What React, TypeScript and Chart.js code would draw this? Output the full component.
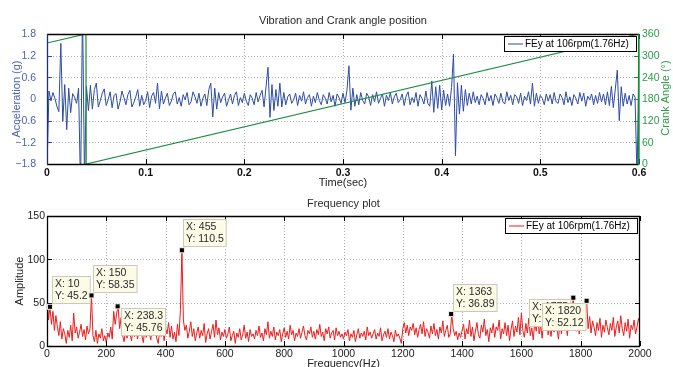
import React, { useEffect, useRef } from 'react';
import { Chart, registerables } from 'chart.js';

Chart.register(...registerables);

// ---------------- data ----------------
const TIME_STEP = 0.002; // seconds between acceleration samples
const accelValues: number[] = [
  -1.9, 0.22, -0.05, 0.18, 0.02, -0.2, -0.35, 1.54, -0.62, 0.4, -0.85, 0.3, -0.38, 0.15, 0.05, -0.12, 0.3, -2.5, 2.5, -2.2,
  0.35, -0.32, 0.38, -0.28, 0.26, 0.44, -0.22, -0.05, 0.16, 0.28, -0.18, -0.02, 0.2, -0.24, 0.1, 0.15, -0.28, -0.08, 0.22, 0.04,
  -0.16, 0.12, 0.24, -0.22, -0.1, 0.06, 0.26, -0.2, 0.1, -0.16, -0.04, 0.2, -0.24, 0.08, 0.18, -0.12, 0.44, -0.27, 0.22, -0.14,
  0.02, 0.16, -0.18, -0.06, 0.14, 0.2, -0.14, 0.04, -0.2, 0.12, -0.02, 0.18, -0.16, -0.08, 0.2, 0.06, -0.12, 0.16, -0.2, 0.02,
  0.14, -0.18, 0.26, 0.44, -0.5, 0.3, -0.28, 0.18, -0.1, 0.06, 0.16, -0.2, -0.02, 0.14, -0.14, 0.1, 0.2, -0.18, 0.04, -0.1,
  0.16, -0.06, -0.18, 0.12, 0.02, -0.16, 0.18, -0.08, 0.1, 0.24, -0.22, 0.34, 0.88, -0.51, 0.4, -0.32, 0.26, -0.2, 0.44, -0.22,
  0.18, -0.16, 0.06, 0.14, -0.12, -0.02, 0.16, -0.18, 0.1, -0.06, 0.2, -0.14, 0.04, 0.12, -0.2, 0.08, -0.1, 0.18, -0.04, -0.16,
  0.12, 0.02, -0.14, 0.18, -0.08, 0.1, -0.2, 0.14, 0.04, -0.12, 0.16, -0.1, 0.24, 0.92, -0.31, 0.3, -0.2, 0.12, -0.16, 0.18,
  -0.04, -0.14, 0.16, 0.06, -0.18, 0.12, -0.08, 0.2, -0.12, 0.02, 0.14, -0.2, 0.1, -0.04, 0.18, -0.14, 0.06, 0.16, -0.1, -0.02,
  0.14, -0.18, 0.08, 0.2, -0.16, 0.04, -0.1, 0.18, -0.2, 0.12, 0.02, -0.14, 0.22, -0.12, -0.2, 0.5, -0.37, 0.34, -0.26, 0.38,
  -0.3, 0.24, -0.18, 0.14, -0.2, 0.32, 1.24, -1.57, 0.45, -0.42, 0.38, -0.34, 0.26, -0.18, 0.16, -0.14, 0.2, -0.1, 0.08, -0.16,
  0.12, 0.02, -0.16, 0.18, -0.06, 0.1, -0.18, 0.14, 0.04, -0.12, 0.16, -0.08, -0.14, 0.2, -0.04, 0.1, -0.16, 0.12, 0.06, -0.12,
  0.16, -0.18, 0.08, -0.04, 0.2, -0.14, 0.44, -0.2, 0.16, -0.12, 0.1, 0.02, -0.16, 0.14, -0.06, 0.12, -0.14, 0.18, -0.08, -0.12,
  0.14, 0.04, -0.16, 0.2, -0.1, 0.06, -0.18, 0.12, 0.02, -0.14, 0.18, -0.06, 0.16, -0.2, 0.08, -0.02, 0.14, -0.16, 0.1, -0.12,
  0.18, -0.08, 0.14, -0.16, 0.2, -0.18, 0.35, -0.24, 0.28, 0.8, -0.6, 0.34, -0.2, 0.16, -0.14, 0.1, -0.18, 0.14, 0.05, -2.2,
  1.2,
];

const crankTimes: number[] = [0, 0.0395, 0.0397, 0.6];
const crankAngles: number[] = [335, 360, 0, 360];

const timeTicks: number[] = [0, 0.1, 0.2, 0.3, 0.4, 0.5, 0.6];
const timeTickLabels: string[] = ['0', '0.1', '0.2', '0.3', '0.4', '0.5', '0.6'];
const accTicks: number[] = [-1.8, -1.2, -0.6, 0, 0.6, 1.2, 1.8];
const accTickLabels: string[] = ['\u22121.8', '\u22121.2', '\u22120.6', '0', '0.6', '1.2', '1.8'];
const angleTicks: number[] = [0, 60, 120, 180, 240, 300, 360];
const angleTickLabels: string[] = ['0', '60', '120', '180', '240', '300', '360'];

const FREQ_STEP = 5; // Hz between spectrum bins
const ampValues: number[] = [
  62, 30, 45.2, 25, 40, 18, 35, 22, 12, 28, 8, 20, 14, 3, 18, 10, 24, 6, 38, 15,
  22, 9, 16, 25, 11, 19, 7, 23, 14, 20, 58.35, 12, 5, 18, 3, 14, 9, 20, 6, 12,
  4, 15, 10, 22, 8, 40, 25, 38, 45.76, 20, 33, 12, 5, 18, 9, 22, 14, 6, 19, 11,
  24, 8, 17, 28, 12, 4, 20, 10, 30, 15, 7, 22, 13, 26, 9, 3, 18, 11, 24, 6,
  20, 14, 27, 10, 23, 8, 16, 5, 25, 12, 42, 110.5, 30, 18, 24, 9, 17, 28, 11, 20,
  6, 15, 22, 9, 18, 12, 26, 4, 14, 20, 8, 17, 25, 10, 30, 13, 21, 7, 16, 11,
  19, 9, 14, 22, 6, 12, 17, 3, 15, 10, 20, 7, 13, 24, 9, 16, 5, 19, 11, 14,
  8, 18, 12, 23, 10, 15, 6, 20, 13, 28, 9, 17, 11, 22, 7, 16, 12, 19, 5, 14,
  21, 10, 17, 8, 24, 13, 18, 6, 15, 11, 20, 9, 16, 23, 12, 7, 18, 14, 22, 10,
  17, 8, 19, 13, 25, 11, 16, 6, 20, 14, 22, 9, 15, 18, 7, 21, 12, 17, 10, 14,
  8, 16, 12, 19, 6, 14, 10, 18, 5, 13, 20, 9, 15, 11, 17, 7, 22, 12, 16, 9,
  14, 19, 8, 15, 11, 21, 6, 13, 17, 10, 20, 8, 16, 12, 5, 18, 11, 14, 9, 3,
  20, 27, 15, 24, 12, 22, 18, 26, 13, 21, 10, 19, 25, 14, 28, 11, 20, 16, 9, 23,
  14, 26, 12, 19, 8, 22, 15, 29, 11, 18, 24, 10, 14, 36.89, 20, 12, 17, 7, 15, 10,
  18, 25, 8, 20, 14, 30, 11, 22, 6, 17, 27, 13, 9, 24, 16, 31, 12, 19, 5, 21,
  15, 26, 10, 22, 18, 30, 8, 20, 14, 27, 12, 24, 6, 19, 29, 11, 23, 16, 33, 13,
  38, 18, 10, 26, 15, 32, 12, 21, 7, 28, 17, 35, 14, 24, 9, 30, 19, 36, 13, 22,
  11, 29, 16, 34, 20, 8, 27, 14, 31, 18, 25, 12, 33, 22, 40, 55.7, 24, 17, 30, 14,
  26, 19, 35, 28, 52.12, 20, 34, 15, 29, 22, 12, 27, 18, 32, 10, 24, 16, 30, 21, 13,
  26, 18, 33, 11, 22, 29, 15, 35, 20, 12, 27, 17, 31, 9, 24, 19, 30, 14, 22, 32,
  25,
];

const freqTicks: number[] = [0, 200, 400, 600, 800, 1000, 1200, 1400, 1600, 1800, 2000];
const freqTickLabels: string[] = ['0', '200', '400', '600', '800', '1000', '1200', '1400', '1600', '1800', '2000'];
const ampTicks: number[] = [0, 50, 100, 150];
const ampTickLabels: string[] = ['0', '50', '100', '150'];

const tipX: number[] = [10, 150, 238.3, 455, 1363, 1775, 1820];
const tipY: number[] = [45.2, 58.35, 45.76, 110.5, 36.89, 55.7, 52.12];

const legendLabel = 'FEy at 106rpm(1.76Hz)';
const topTitle = 'Vibration and Crank angle position';
const bottomTitle = 'Frequency plot';

// ---------------- styling ----------------
const FONT_FAMILY = '"Liberation Sans", Arial, Helvetica, sans-serif';
const BLUE = '#2d4ca3';
const BLUE_TEXT = '#4a64b4';
const GREEN = '#178c3c';
const GREEN_TEXT = '#2b9b4b';
const RED = '#ee1b1b';
const GRID = '#b0b0b0';
const TEXT = '#222';

// datatip box offsets relative to marker (styling)
const tipOffsets: number[][] = [[2, -31], [2, -30], [3, 2], [1, -31], [2, -30], [-44, 1], [-45, 2]];

function font(size: number, weight = 'normal') {
  return `${weight} ${size}px ${FONT_FAMILY}`;
}

function seg(ctx: CanvasRenderingContext2D, x1: number, y1: number, x2: number, y2: number) {
  ctx.beginPath();
  ctx.moveTo(x1, y1);
  ctx.lineTo(x2, y2);
  ctx.stroke();
}

function drawGrid(ctx: CanvasRenderingContext2D, a: any, xs: number[], ys: number[]) {
  ctx.save();
  ctx.strokeStyle = GRID;
  ctx.lineWidth = 1;
  ctx.setLineDash([1, 2]);
  xs.forEach((p) => {
    if (Math.abs(p - a.left) < 2 || Math.abs(p - a.right) < 2) return;
    const x = Math.round(p) + 0.5;
    seg(ctx, x, a.top, x, a.bottom);
  });
  ys.forEach((p) => {
    if (Math.abs(p - a.top) < 2 || Math.abs(p - a.bottom) < 2) return;
    const y = Math.round(p) + 0.5;
    seg(ctx, a.left, y, a.right, y);
  });
  ctx.restore();
}

function drawLegend(ctx: CanvasRenderingContext2D, a: any, color: string) {
  const w = 132;
  const h = 15;
  const x = Math.round(a.right) - 3 - w + 0.5;
  const y = Math.round(a.top) + 2 + 0.5;
  ctx.save();
  ctx.fillStyle = '#fff';
  ctx.fillRect(x, y, w, h);
  ctx.strokeStyle = '#000';
  ctx.lineWidth = 1;
  ctx.strokeRect(x, y, w, h);
  ctx.strokeStyle = color;
  seg(ctx, x + 3.5, y + h / 2, x + 18.5, y + h / 2);
  ctx.fillStyle = '#000';
  ctx.font = font(10);
  ctx.textAlign = 'left';
  ctx.textBaseline = 'middle';
  ctx.fillText(legendLabel, x + 20.5, y + h / 2 + 0.5);
  ctx.restore();
}

function drawRotated(ctx: CanvasRenderingContext2D, text: string, x: number, y: number, color: string) {
  ctx.save();
  ctx.translate(x, y);
  ctx.rotate(-Math.PI / 2);
  ctx.fillStyle = color;
  ctx.font = font(11);
  ctx.textAlign = 'center';
  ctx.textBaseline = 'middle';
  ctx.fillText(text, 0, 0);
  ctx.restore();
}

const topDecor = {
  id: 'topDecor',
  beforeDatasetsDraw(chart: any) {
    const { ctx, chartArea, scales } = chart;
    drawGrid(
      ctx,
      chartArea,
      timeTicks.map((v) => scales.x.getPixelForValue(v)),
      accTicks.map((v) => scales.y.getPixelForValue(v)),
    );
  },
  afterDatasetsDraw(chart: any) {
    const { ctx, chartArea: a, scales } = chart;
    const { left, right, top, bottom } = a;
    ctx.save();
    ctx.lineWidth = 1;
    // inner ticks
    ctx.strokeStyle = '#000';
    timeTicks.forEach((v) => {
      const x = Math.round(scales.x.getPixelForValue(v)) + 0.5;
      seg(ctx, x, bottom, x, bottom - 5);
      seg(ctx, x, top, x, top + 5);
    });
    ctx.strokeStyle = BLUE;
    accTicks.forEach((v) => {
      const y = Math.round(scales.y.getPixelForValue(v)) + 0.5;
      seg(ctx, left, y, left + 5, y);
    });
    ctx.strokeStyle = GREEN;
    angleTicks.forEach((v) => {
      const y = Math.round(scales.y2.getPixelForValue(v)) + 0.5;
      seg(ctx, right, y, right - 5, y);
    });
    // box
    ctx.strokeStyle = '#000';
    ctx.lineWidth = 1.3;
    seg(ctx, left, top + 0.5, right, top + 0.5);
    seg(ctx, left, bottom + 0.5, right, bottom + 0.5);
    ctx.strokeStyle = '#1c2f6e';
    seg(ctx, left + 0.5, top, left + 0.5, bottom + 1);
    ctx.strokeStyle = GREEN;
    ctx.lineWidth = 1.8;
    seg(ctx, right - 0.2, top, right - 0.2, bottom + 1);

    // tick labels
    ctx.textBaseline = 'middle';
    ctx.font = font(10.5, 'bold');
    ctx.fillStyle = '#111';
    ctx.textAlign = 'center';
    timeTicks.forEach((v, i) => ctx.fillText(timeTickLabels[i], scales.x.getPixelForValue(v), bottom + 9));
    ctx.font = font(10.5);
    ctx.fillStyle = BLUE_TEXT;
    ctx.textAlign = 'right';
    accTicks.forEach((v, i) => ctx.fillText(accTickLabels[i], left - 11, scales.y.getPixelForValue(v) + 0.5));
    ctx.fillStyle = GREEN_TEXT;
    ctx.textAlign = 'left';
    angleTicks.forEach((v, i) => ctx.fillText(angleTickLabels[i], right + 3, scales.y2.getPixelForValue(v) + 0.5));

    // titles
    ctx.font = font(11);
    ctx.fillStyle = '#2a2a2a';
    ctx.textAlign = 'center';
    ctx.fillText(topTitle, (left + right) / 2, 21);
    ctx.fillStyle = TEXT;
    ctx.fillText('Time(sec)', (left + right) / 2, 182.5);
    ctx.restore();

    drawRotated(ctx, 'Acceleration (g)', 16.5, (top + bottom) / 2, BLUE_TEXT);
    drawRotated(ctx, 'Crank Angle (\u00b0)', 666, (top + bottom) / 2 - 1, GREEN_TEXT);
    drawLegend(ctx, a, BLUE);
  },
};

const bottomDecor = {
  id: 'bottomDecor',
  beforeDatasetsDraw(chart: any) {
    const { ctx, chartArea, scales } = chart;
    drawGrid(
      ctx,
      chartArea,
      freqTicks.map((v) => scales.x.getPixelForValue(v)),
      ampTicks.map((v) => scales.y.getPixelForValue(v)),
    );
  },
  afterDatasetsDraw(chart: any) {
    const { ctx, chartArea: a, scales } = chart;
    const { left, right, top, bottom } = a;
    ctx.save();
    ctx.lineWidth = 1;
    ctx.strokeStyle = '#000';
    freqTicks.forEach((v) => {
      const x = Math.round(scales.x.getPixelForValue(v)) + 0.5;
      seg(ctx, x, bottom, x, bottom - 5);
      seg(ctx, x, top, x, top + 5);
    });
    ampTicks.forEach((v) => {
      const y = Math.round(scales.y.getPixelForValue(v)) + 0.5;
      seg(ctx, left, y, left + 5, y);
      seg(ctx, right, y, right - 5, y);
    });
    ctx.lineWidth = 1.3;
    seg(ctx, left, top + 0.5, right, top + 0.5);
    seg(ctx, left, bottom + 0.5, right, bottom + 0.5);
    seg(ctx, left + 0.5, top, left + 0.5, bottom + 1);
    seg(ctx, right - 0.5, top, right - 0.5, bottom + 1);

    ctx.textBaseline = 'middle';
    ctx.font = font(10.5);
    ctx.fillStyle = TEXT;
    ctx.textAlign = 'center';
    freqTicks.forEach((v, i) => ctx.fillText(freqTickLabels[i], scales.x.getPixelForValue(v), bottom + 8));
    ctx.textAlign = 'right';
    ampTicks.forEach((v, i) => ctx.fillText(ampTickLabels[i], left - 2, scales.y.getPixelForValue(v) + 0.5));

    ctx.font = font(11);
    ctx.fillStyle = '#2a2a2a';
    ctx.textAlign = 'center';
    ctx.fillText(bottomTitle, (left + right) / 2, 13.7);
    ctx.fillStyle = TEXT;
    ctx.fillText('Frequency(Hz)', (left + right) / 2, 174);
    ctx.restore();

    drawRotated(ctx, 'Amplitude', 19.5, (top + bottom) / 2, TEXT);
    drawLegend(ctx, a, RED);

    // datatips
    ctx.save();
    ctx.font = font(10.5);
    ctx.textAlign = 'left';
    ctx.textBaseline = 'middle';
    const markers: number[][] = [];
    tipX.forEach((xv, i) => {
      const mx = scales.x.getPixelForValue(xv);
      const my = scales.y.getPixelForValue(tipY[i]);
      markers.push([mx, my]);
      const l1 = `X: ${xv}`;
      const l2 = `Y: ${tipY[i]}`;
      const w = Math.max(ctx.measureText(l1).width, ctx.measureText(l2).width) + 5;
      const h = 27;
      const bx = Math.round(mx + tipOffsets[i][0]) + 0.5;
      const by = Math.round(my + tipOffsets[i][1]) + 0.5;
      ctx.fillStyle = '#fbfbe6';
      ctx.fillRect(bx, by, w, h);
      ctx.strokeStyle = '#c9c9bd';
      ctx.lineWidth = 1;
      ctx.strokeRect(bx, by, w, h);
      ctx.fillStyle = '#2a2a2a';
      ctx.fillText(l1, bx + 2.5, by + 8);
      ctx.fillText(l2, bx + 2.5, by + 19.5);
    });
    markers.forEach(([mx, my]) => {
      ctx.fillStyle = '#e6e6dc';
      ctx.fillRect(mx - 3, my - 3, 6, 6);
      ctx.fillStyle = '#000';
      ctx.fillRect(mx - 2, my - 2, 4, 4);
    });
    ctx.restore();
  },
};

export default function App() {
  const topRef = useRef<HTMLCanvasElement>(null);
  const botRef = useRef<HTMLCanvasElement>(null);

  useEffect(() => {
    document.body.style.margin = '0';
    document.body.style.background = '#fff';
    const topChart = new Chart(topRef.current as HTMLCanvasElement, {
      type: 'line',
      data: {
        datasets: [
          {
            label: 'Crank angle',
            data: crankTimes.map((t, i) => ({ x: t, y: crankAngles[i] })),
            yAxisID: 'y2',
            borderColor: GREEN,
            borderWidth: 1.2,
            pointRadius: 0,
            tension: 0,
          },
          {
            label: legendLabel,
            data: accelValues.map((v, i) => ({ x: i * TIME_STEP, y: v })),
            yAxisID: 'y',
            borderColor: BLUE,
            borderWidth: 1,
            pointRadius: 0,
            tension: 0,
          },
        ],
      },
      options: {
        responsive: false,
        animation: false,
        devicePixelRatio: 1,
        events: [],
        layout: { padding: { left: 47, right: 34, top: 34, bottom: 26 } },
        scales: {
          x: { type: 'linear', display: false, min: 0, max: 0.6 },
          y: { type: 'linear', display: false, min: -1.8, max: 1.8 },
          y2: { type: 'linear', display: false, min: 0, max: 360, position: 'right' },
        },
        plugins: { legend: { display: false }, tooltip: { enabled: false } },
      } as any,
      plugins: [topDecor],
    });

    const botChart = new Chart(botRef.current as HTMLCanvasElement, {
      type: 'line',
      data: {
        datasets: [
          {
            label: legendLabel,
            data: ampValues.map((v, i) => ({ x: i * FREQ_STEP, y: v })),
            borderColor: RED,
            borderWidth: 1,
            pointRadius: 0,
            tension: 0,
          },
        ],
      },
      options: {
        responsive: false,
        animation: false,
        devicePixelRatio: 1,
        events: [],
        layout: { padding: { left: 47, right: 33, top: 26, bottom: 21 } },
        scales: {
          x: { type: 'linear', display: false, min: 0, max: 2000 },
          y: { type: 'linear', display: false, min: 0, max: 150 },
        },
        plugins: { legend: { display: false }, tooltip: { enabled: false } },
      } as any,
      plugins: [bottomDecor],
    });

    return () => {
      topChart.destroy();
      botChart.destroy();
    };
  }, []);

  return (
    <div style={{ width: 673, height: 367, background: '#fff', overflow: 'hidden' }}>
      <canvas ref={topRef} width={673} height={190} style={{ display: 'block', width: 673, height: 190 }} />
      <canvas ref={botRef} width={673} height={177} style={{ display: 'block', width: 673, height: 177 }} />
    </div>
  );
}
